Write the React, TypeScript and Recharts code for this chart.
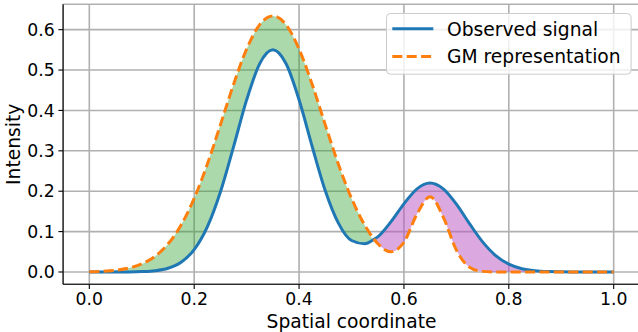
import React from 'react';
import { ComposedChart, Line, Area, XAxis, YAxis, CartesianGrid, Legend, Label } from 'recharts';

const xValues = [
  0, 0.025, 0.05, 0.075, 0.1, 0.125, 0.15, 0.175, 0.2, 0.225, 0.25, 0.275, 0.3, 0.325, 0.35,
  0.375, 0.4, 0.425, 0.45, 0.475, 0.5, 0.525, 0.543, 0.55, 0.575, 0.6, 0.625, 0.65, 0.675,
  0.7, 0.725, 0.75, 0.775, 0.8, 0.825, 0.85, 0.875, 0.9, 0.925, 0.95, 0.975, 1.0,
];

const observedSignal = [
  0, 0, 0.0001, 0.0002, 0.0009, 0.0031, 0.0093, 0.0242, 0.0554, 0.1117, 0.1982, 0.3098, 0.4261, 0.516, 0.55,
  0.5161, 0.4264, 0.3107, 0.2011, 0.121, 0.078, 0.07, 0.081, 0.087, 0.124, 0.1688, 0.2058, 0.2201, 0.2056,
  0.1679, 0.1197, 0.0746, 0.0406, 0.0193, 0.008, 0.0029, 0.0009, 0.0003, 0.0001, 0, 0, 0,
];

const gmRepresentation = [
  0.0007, 0.0018, 0.0043, 0.0096, 0.0199, 0.0384, 0.0691, 0.1162, 0.1823, 0.2668, 0.3643, 0.4643, 0.552, 0.6124, 0.634,
  0.6124, 0.552, 0.4643, 0.3643, 0.2668, 0.1823, 0.1164, 0.081, 0.0705, 0.0501, 0.0736, 0.1437, 0.1863, 0.1359,
  0.0544, 0.012, 0.0015, 0.0001, 0, 0, 0, 0, 0, 0, 0, 0, 0,
];

const xTicks = [0, 0.2, 0.4, 0.6, 0.8, 1.0];
const yTicks = [0, 0.1, 0.2, 0.3, 0.4, 0.5, 0.6];
const legendNames = ['Observed signal', 'GM representation'];

const data = xValues.map((x, i) => {
  const o = observedSignal[i];
  const g = gmRepresentation[i];
  return {
    x,
    observed: o,
    gm: g,
    over: [o, Math.max(o, g)],
    under: [Math.min(o, g), o],
  };
});

const FONT = 'DejaVu Sans';
const LW = 3;
const DASH = '10 4.4';

const renderLegend = (props: any) => {
  const payload: any[] = (props && props.payload) || [];
  const items = legendNames.map((n) => payload.find((p) => p.value === n)).filter(Boolean);
  return (
    <svg width={246} height={62} style={{ display: 'block', overflow: 'visible' }}>
      <rect x={0.5} y={0.5} width={244.6} height={60.7} rx={4} ry={4} fill="#ffffff" fillOpacity={0.8} stroke="#cccccc" strokeWidth={1} />
      {items.map((it: any, i: number) => {
        const ly = 15.7 + i * 27.7;
        const dash = it.payload && it.payload.strokeDasharray;
        return (
          <g key={i}>
            <line x1={6.3} x2={47.3} y1={ly} y2={ly} stroke={it.color} strokeWidth={LW} strokeDasharray={dash} />
            <text x={61} y={ly + 7} fontSize={18.7} fill="#000" fontFamily={FONT}>{it.value}</text>
          </g>
        );
      })}
    </svg>
  );
};

export default function App() {
  return (
    <div style={{ position: 'fixed', left: 0, top: 0, width: 638, height: 332, overflow: 'hidden', background: '#fff' }}>
      <ComposedChart
        width={660}
        height={332}
        data={data}
        margin={{ top: 4.3, right: 20.1, bottom: 0, left: 0 }}
        style={{ fontFamily: FONT }}
      >
        <CartesianGrid stroke="#b0b0b0" strokeWidth={1.6} fill="none" />
        <Area
          type="monotone"
          dataKey="over"
          stroke="none"
          fill="#2ca02c"
          fillOpacity={0.4}
          legendType="none"
          isAnimationActive={false}
          dot={false}
          activeDot={false}
        />
        <Area
          type="monotone"
          dataKey="under"
          stroke="none"
          fill="#b753c1"
          fillOpacity={0.5}
          legendType="none"
          isAnimationActive={false}
          dot={false}
          activeDot={false}
        />
        <Line
          type="monotone"
          dataKey="observed"
          name="Observed signal"
          stroke="#1f77b4"
          strokeWidth={LW}
          dot={false}
          activeDot={false}
          isAnimationActive={false}
        />
        <Line
          type="monotone"
          dataKey="gm"
          name="GM representation"
          stroke="#ff7f0e"
          strokeWidth={LW}
          strokeDasharray={DASH}
          dot={false}
          activeDot={false}
          isAnimationActive={false}
        />
        <XAxis
          dataKey="x"
          type="number"
          domain={[-0.05, 1.05]}
          ticks={xTicks}
          tickFormatter={(v: number) => v.toFixed(1)}
          height={47.7}
          tickSize={4.7}
          tickMargin={3.7}
          allowDataOverflow
          axisLine={{ stroke: '#000', strokeWidth: 1.1 }}
          tickLine={{ stroke: '#000', strokeWidth: 1.1 }}
          tick={{ fontSize: 17.3, fill: '#000', fontFamily: FONT }}
        >
          <Label value="Spatial coordinate" position="insideBottom" offset={4.4} fontSize={18.7} fill="#000" fontFamily={FONT} />
        </XAxis>
        <XAxis
          xAxisId="top"
          orientation="top"
          dataKey="x"
          type="number"
          domain={[-0.05, 1.05]}
          height={0}
          tick={false}
          tickLine={false}
          allowDataOverflow
          axisLine={{ stroke: '#000', strokeWidth: 1.1 }}
        />
        <YAxis
          type="number"
          domain={[-0.0305, 0.6628]}
          ticks={yTicks}
          tickFormatter={(v: number) => v.toFixed(1)}
          width={63.1}
          tickSize={4.7}
          tickMargin={3.6}
          allowDataOverflow
          axisLine={{ stroke: '#000', strokeWidth: 1.1 }}
          tickLine={{ stroke: '#000', strokeWidth: 1.1 }}
          tick={{ fontSize: 17.3, fill: '#000', fontFamily: FONT }}
        >
          <Label
            content={(p: any) => {
              const vb = p.viewBox || { x: 0, y: 4.3, width: 63.1, height: 280 };
              const lx = vb.x + 20;
              const ly = vb.y + vb.height / 2;
              return (
                <text
                  x={lx}
                  y={ly}
                  transform={`rotate(-90 ${lx} ${ly})`}
                  textAnchor="middle"
                  fontSize={18.7}
                  fill="#000"
                  fontFamily={FONT}
                >
                  Intensity
                </text>
              );
            }}
          />
        </YAxis>
        <Legend
          layout="vertical"
          align="center"
          verticalAlign="middle"
          content={renderLegend}
          wrapperStyle={{ left: 385.7, top: 13.3, width: 246, height: 62, margin: 0, padding: 0 }}
        />
      </ComposedChart>
    </div>
  );
}
